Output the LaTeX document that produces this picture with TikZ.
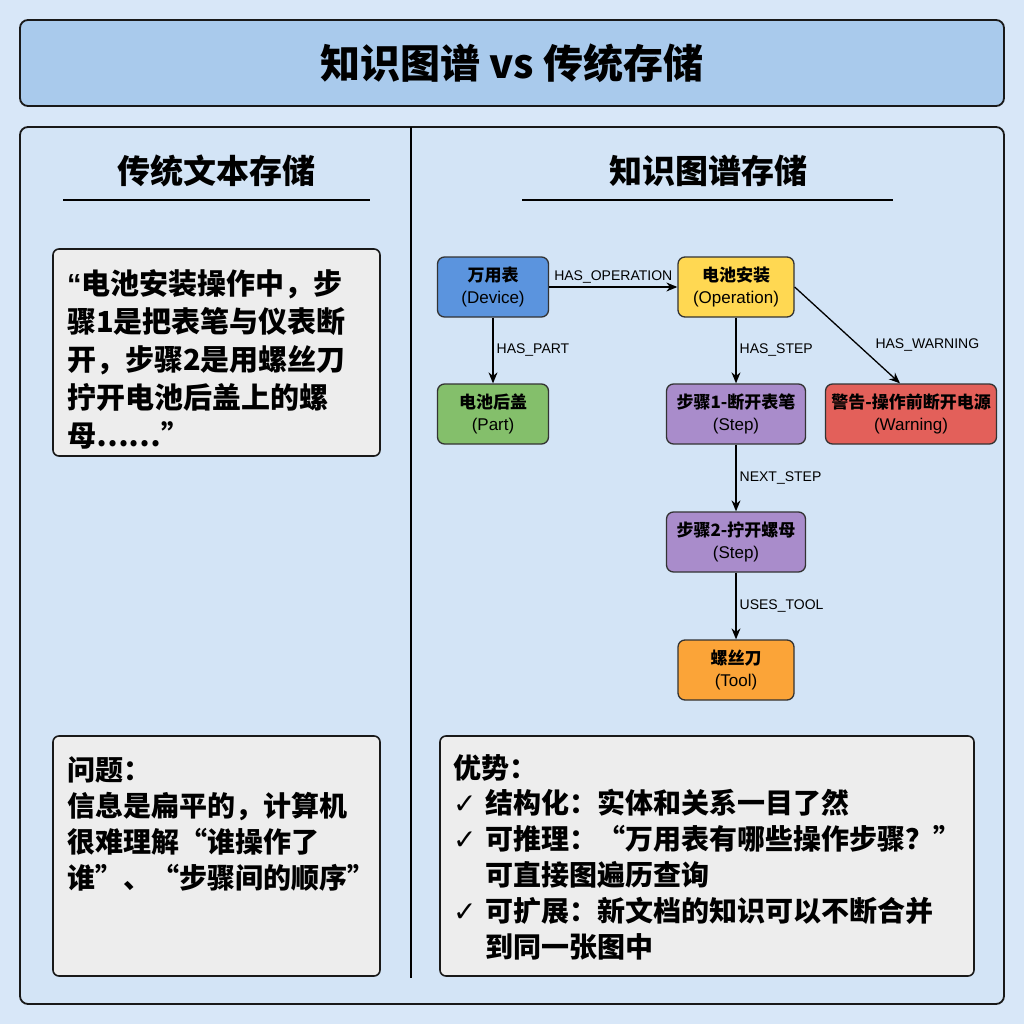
\documentclass[tikz,border=0pt]{standalone}
\usepackage{fontspec}
\setmainfont{Noto Sans CJK SC}
\newfontfamily\lat{Liberation Sans}
\newfontfamily\checkfont{DejaVu Sans}
\usetikzlibrary{arrows.meta}
\definecolor{pageblue}{HTML}{D8E7F8}
\definecolor{panelblue}{HTML}{D3E4F6}
\definecolor{titleblue}{HTML}{A9CAEC}
\definecolor{boxgray}{HTML}{EDEDED}
\definecolor{devblue}{HTML}{5B94DE}
\definecolor{opyellow}{HTML}{FFD852}
\definecolor{partgreen}{HTML}{84BF6B}
\definecolor{steppurple}{HTML}{A98CCB}
\definecolor{warnred}{HTML}{E3605A}
\definecolor{toolorange}{HTML}{FBA438}
\newcommand{\chk}{\makebox[32pt][l]{\checkfont ✓}}
\newcommand{\ind}{\hspace*{32pt}}

\begin{document}
\begin{tikzpicture}[x=1pt,y=-1pt,
  panel/.style={draw=black!90, line width=1.8pt, rounded corners=8pt},
  textbox/.style={draw=black!90, fill=boxgray, line width=1.6pt, rounded corners=6pt},
  para/.style={anchor=north west, inner sep=0pt, align=left, font=\bfseries\fontsize{28}{#1}\selectfont},
  para/.default=36pt,
  heading/.style={font=\bfseries\fontsize{33}{38}\selectfont},
  entity/.style={draw=black!80, line width=1.3pt, rounded corners=7pt, minimum width=#1,
    minimum height=60pt, inner sep=0pt, align=center, font=\fontsize{17}{22}\selectfont},
  entity/.default=116pt,
  rel/.style={line width=1.3pt, -{Stealth[length=11pt,width=9pt]}},
  lbl/.style={font=\lat\fontsize{14}{16}\selectfont, inner sep=3pt}]
\fill[pageblue] (0,0) rectangle (1024,1024);

% title bar
\draw[panel, fill=titleblue] (20,20) rectangle (1004,106);
\node[font=\bfseries\fontsize{40}{46}\selectfont] (title) at (512,63) {知识图谱 vs 传统存储};

% two columns
\draw[panel, fill=panelblue] (20,127) rectangle (1004,1004);
\draw[line width=1.5pt] (411,127) -- (411,978);
\node[heading] (lefthead) at (216,171) {传统文本存储};
\node[heading] (righthead) at (708,171) {知识图谱存储};
\draw[line width=2.2pt] (63,200) -- (370,200);
\draw[line width=2.2pt] (522,200) -- (893,200);

% left column: plain text
\draw[textbox] (53,249) rectangle (380,456);
\node[para=38pt, font=\bfseries\fontsize{29}{38}\selectfont] (raw) at (67,269) {{\lat\bfseries “}电池安装操作中，步\\骤1是把表笔与仪表断\\开，步骤2是用螺丝刀\\拧开电池后盖上的螺\\母……”};
\draw[textbox] (53,736) rectangle (380,976);
\node[para] (problem) at (67,756) {问题：\\信息是扁平的，计算机\\很难理解“谁操作了\\谁”、“步骤间的顺序”};

% right column: graph
\node[entity=111pt, fill=devblue] (meter) at (493,287) {\textbf{万用表}\\{\lat (Device)}};
\node[entity=116pt, fill=opyellow] (install) at (736,287) {\textbf{电池安装}\\{\lat (Operation)}};
\node[entity=111pt, fill=partgreen] (cover) at (493,414) {\textbf{电池后盖}\\{\lat (Part)}};
\node[entity=139pt, fill=steppurple] (step1) at (736,414) {\textbf{步骤1-断开表笔}\\{\lat (Step)}};
\node[entity=171pt, fill=warnred] (warn) at (911,414) {\textbf{警告-操作前断开电源}\\{\lat (Warning)}};
\node[entity=139pt, fill=steppurple] (step2) at (736,542) {\textbf{步骤2-拧开螺母}\\{\lat (Step)}};
\node[entity=116pt, fill=toolorange] (tool) at (736,670) {\textbf{螺丝刀}\\{\lat (Tool)}};

\draw[rel] (meter) -- node[lbl, above] {HAS\_OPERATION} (install);
\draw[rel] (meter) -- node[lbl, right] {HAS\_PART} (cover);
\draw[rel] (install) -- node[lbl, right] {HAS\_STEP} (step1);
\draw[rel] (install.east) -- node[lbl, pos=0.6, right=14pt] {HAS\_WARNING} ([xshift=-11pt]warn.north);
\draw[rel] (step1) -- node[lbl, right] {NEXT\_STEP} (step2);
\draw[rel] (step2) -- node[lbl, right] {USES\_TOOL} (tool);

\draw[textbox] (440,736) rectangle (974,976);
\node[para=35.8pt] (gain) at (453,754) {优势：\\\chk 结构化：实体和关系一目了然\\\chk 可推理：“万用表有哪些操作步骤？”\\\ind 可直接图遍历查询\\\chk 可扩展：新文档的知识可以不断合并\\\ind 到同一张图中};
\end{tikzpicture}
\end{document}
